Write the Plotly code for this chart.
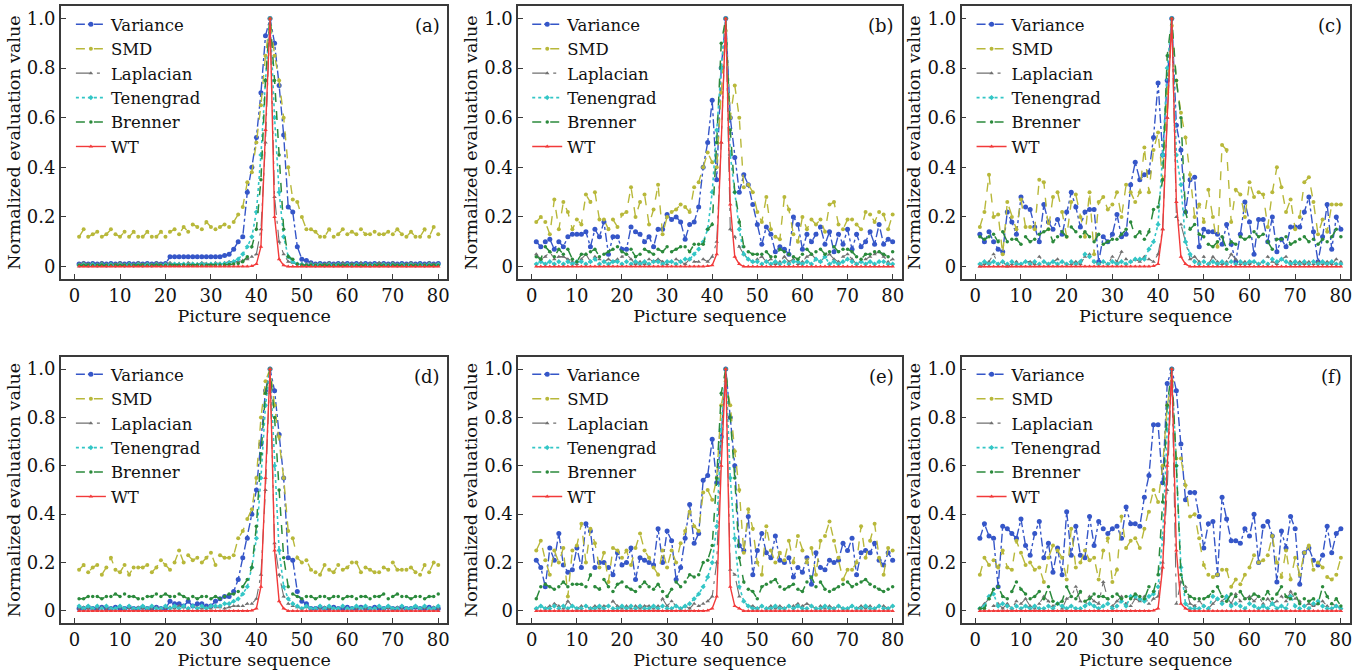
import plotly.graph_objects as go

x = list(range(1, 81))
names = ["Variance", "SMD", "Laplacian", "Tenengrad", "Brenner", "WT"]
panel_labels = ["(a)", "(b)", "(c)", "(d)", "(e)", "(f)"]
xtick_vals = [0, 10, 20, 30, 40, 50, 60, 70, 80]
ytick_vals = [0, 0.2, 0.4, 0.6, 0.8, 1.0]
ytick_text = ["0", "0.2", "0.4", "0.6", "0.8", "1.0"]

# ---------------- panel (a) ----------------
a_var = [0.01, 0.012, 0.01, 0.012, 0.01, 0.012, 0.01, 0.012, 0.01, 0.012,
         0.01, 0.012, 0.01, 0.012, 0.01, 0.012, 0.01, 0.012, 0.01, 0.012,
         0.04, 0.04, 0.04, 0.04, 0.04, 0.04, 0.04, 0.04, 0.04, 0.04,
         0.04, 0.04, 0.045, 0.05, 0.07, 0.10, 0.12, 0.30, 0.40, 0.52,
         0.70, 0.93, 1.00, 0.90, 0.73, 0.53, 0.24, 0.22, 0.08, 0.03,
         0.025, 0.015, 0.01, 0.012, 0.01, 0.012, 0.01, 0.012, 0.01, 0.012,
         0.01, 0.012, 0.01, 0.012, 0.01, 0.012, 0.01, 0.012, 0.01, 0.012,
         0.01, 0.012, 0.01, 0.012, 0.01, 0.012, 0.01, 0.012, 0.01, 0.012]
a_smd = [0.12, 0.15, 0.12, 0.13, 0.14, 0.12, 0.13, 0.15, 0.13, 0.12,
         0.14, 0.12, 0.14, 0.12, 0.12, 0.14, 0.12, 0.12, 0.14, 0.12,
         0.14, 0.15, 0.13, 0.16, 0.14, 0.17, 0.16, 0.15, 0.18, 0.16,
         0.15, 0.16, 0.17, 0.16, 0.18, 0.21, 0.24, 0.34, 0.38, 0.50,
         0.65, 0.85, 1.00, 0.85, 0.75, 0.60, 0.40, 0.27, 0.26, 0.20,
         0.15, 0.15, 0.14, 0.12, 0.12, 0.15, 0.12, 0.13, 0.15, 0.13,
         0.14, 0.13, 0.15, 0.13, 0.13, 0.14, 0.13, 0.13, 0.14, 0.13,
         0.15, 0.13, 0.12, 0.14, 0.12, 0.12, 0.15, 0.12, 0.16, 0.13]
a_lap = [0.01, 0.015, 0.01, 0.012, 0.01, 0.015, 0.01, 0.012, 0.01, 0.015,
         0.01, 0.012, 0.01, 0.015, 0.01, 0.012, 0.01, 0.015, 0.01, 0.012,
         0.015, 0.01, 0.012, 0.01, 0.015, 0.012, 0.01, 0.015, 0.012, 0.01,
         0.015, 0.012, 0.015, 0.02, 0.02, 0.02, 0.025, 0.03, 0.04, 0.05,
         0.15, 0.50, 1.00, 0.28, 0.10, 0.05, 0.02, 0.015, 0.01, 0.012,
         0.01, 0.015, 0.01, 0.012, 0.01, 0.015, 0.01, 0.012, 0.015, 0.01,
         0.012, 0.01, 0.015, 0.01, 0.012, 0.01, 0.015, 0.012, 0.01, 0.015,
         0.01, 0.012, 0.01, 0.015, 0.01, 0.012, 0.01, 0.015, 0.01, 0.012]
a_ten = [0.005, 0.008, 0.005, 0.008, 0.005, 0.008, 0.005, 0.008, 0.005, 0.008,
         0.005, 0.008, 0.005, 0.008, 0.005, 0.008, 0.005, 0.008, 0.005, 0.008,
         0.008, 0.01, 0.008, 0.01, 0.008, 0.01, 0.008, 0.01, 0.008, 0.01,
         0.01, 0.01, 0.012, 0.015, 0.02, 0.03, 0.05, 0.08, 0.12, 0.22,
         0.45, 0.75, 1.00, 0.60, 0.30, 0.12, 0.04, 0.02, 0.01, 0.008,
         0.005, 0.008, 0.005, 0.008, 0.005, 0.008, 0.005, 0.008, 0.005, 0.008,
         0.005, 0.008, 0.005, 0.008, 0.005, 0.008, 0.005, 0.008, 0.005, 0.008,
         0.005, 0.008, 0.005, 0.008, 0.005, 0.008, 0.005, 0.008, 0.005, 0.008]
a_bre = [0.005, 0.005, 0.006, 0.005, 0.005, 0.006, 0.005, 0.005, 0.006, 0.005,
         0.005, 0.006, 0.005, 0.005, 0.006, 0.005, 0.005, 0.006, 0.005, 0.005,
         0.006, 0.005, 0.005, 0.006, 0.005, 0.005, 0.006, 0.005, 0.005, 0.006,
         0.006, 0.006, 0.007, 0.008, 0.01, 0.012, 0.02, 0.04, 0.08, 0.15,
         0.35, 0.75, 1.00, 0.75, 0.45, 0.15, 0.04, 0.03, 0.01, 0.006,
         0.005, 0.006, 0.005, 0.005, 0.006, 0.005, 0.005, 0.006, 0.005, 0.005,
         0.006, 0.005, 0.005, 0.006, 0.005, 0.005, 0.006, 0.005, 0.005, 0.006,
         0.005, 0.005, 0.006, 0.005, 0.005, 0.006, 0.005, 0.005, 0.006, 0.005]
a_wt = [0, 0, 0, 0, 0, 0, 0, 0, 0, 0,
        0, 0, 0, 0, 0, 0, 0, 0, 0, 0,
        0, 0, 0, 0, 0, 0, 0, 0, 0, 0,
        0, 0, 0, 0, 0, 0, 0, 0, 0.002, 0.01,
        0.08, 0.55, 1.00, 0.20, 0.03, 0.005, 0, 0, 0, 0,
        0, 0, 0, 0, 0, 0, 0, 0, 0, 0,
        0, 0, 0, 0, 0, 0, 0, 0, 0, 0,
        0, 0, 0, 0, 0, 0, 0, 0, 0, 0]

# ---------------- panel (b) ----------------
b_var = [0.10, 0.08, 0.10, 0.11, 0.07, 0.10, 0.08, 0.12, 0.13, 0.13,
         0.13, 0.14, 0.08, 0.15, 0.12, 0.18, 0.05, 0.12, 0.12, 0.07,
         0.07, 0.16, 0.14, 0.13, 0.10, 0.12, 0.08, 0.15, 0.15, 0.21,
         0.19, 0.20, 0.18, 0.11, 0.17, 0.18, 0.24, 0.40, 0.50, 0.67,
         0.35, 0.80, 1.00, 0.60, 0.44, 0.30, 0.37, 0.33, 0.25, 0.17,
         0.09, 0.16, 0.13, 0.06, 0.08, 0.07, 0.05, 0.20, 0.17, 0.07,
         0.13, 0.10, 0.13, 0.16, 0.09, 0.14, 0.06, 0.13, 0.09, 0.15,
         0.07, 0.13, 0.08, 0.10, 0.14, 0.09, 0.17, 0.09, 0.11, 0.10]
b_smd = [0.18, 0.20, 0.18, 0.13, 0.27, 0.15, 0.26, 0.22, 0.15, 0.19,
         0.17, 0.29, 0.26, 0.30, 0.19, 0.19, 0.15, 0.19, 0.16, 0.21,
         0.22, 0.32, 0.20, 0.26, 0.29, 0.17, 0.23, 0.33, 0.13, 0.20,
         0.22, 0.23, 0.25, 0.24, 0.22, 0.32, 0.34, 0.40, 0.46, 0.42,
         0.40, 0.70, 0.95, 0.60, 0.73, 0.60, 0.32, 0.33, 0.30, 0.22,
         0.18, 0.28, 0.15, 0.12, 0.11, 0.28, 0.23, 0.13, 0.10, 0.20,
         0.15, 0.19, 0.17, 0.19, 0.14, 0.25, 0.26, 0.17, 0.15, 0.19,
         0.19, 0.17, 0.15, 0.22, 0.21, 0.18, 0.22, 0.21, 0.15, 0.21]
b_lap = [0.05, 0.03, 0.04, 0.06, 0.03, 0.04, 0.04, 0.03, 0.02, 0.01,
         0.03, 0.05, 0.02, 0.04, 0.03, 0.02, 0.03, 0.02, 0.03, 0.04,
         0.05, 0.03, 0.01, 0.02, 0.01, 0.03, 0.02, 0.03, 0.02, 0.01,
         0.02, 0.03, 0.02, 0.01, 0.03, 0.02, 0.02, 0.03, 0.02, 0.04,
         0.10, 0.50, 1.00, 0.15, 0.12, 0.08, 0.05, 0.03, 0.02, 0.03,
         0.04, 0.02, 0.03, 0.01, 0.02, 0.04, 0.02, 0.03, 0.01, 0.02,
         0.04, 0.05, 0.03, 0.02, 0.04, 0.05, 0.03, 0.02, 0.04, 0.05,
         0.03, 0.01, 0.02, 0.03, 0.04, 0.05, 0.06, 0.04, 0.02, 0.03]
b_ten = [0.01, 0.02, 0.01, 0.02, 0.01, 0.02, 0.01, 0.02, 0.01, 0.02,
         0.02, 0.01, 0.02, 0.03, 0.01, 0.02, 0.01, 0.02, 0.02, 0.01,
         0.02, 0.01, 0.02, 0.01, 0.02, 0.01, 0.02, 0.02, 0.01, 0.02,
         0.02, 0.01, 0.02, 0.03, 0.03, 0.05, 0.07, 0.10, 0.15, 0.30,
         0.55, 0.80, 1.00, 0.45, 0.30, 0.15, 0.05, 0.03, 0.02, 0.02,
         0.01, 0.02, 0.01, 0.02, 0.01, 0.02, 0.01, 0.02, 0.02, 0.01,
         0.02, 0.01, 0.03, 0.02, 0.04, 0.01, 0.02, 0.01, 0.02, 0.03,
         0.02, 0.01, 0.02, 0.01, 0.02, 0.01, 0.02, 0.02, 0.01, 0.01]
b_bre = [0.04, 0.03, 0.08, 0.06, 0.04, 0.07, 0.05, 0.07, 0.03, 0.02,
         0.05, 0.05, 0.06, 0.07, 0.04, 0.05, 0.06, 0.07, 0.08, 0.06,
         0.05, 0.07, 0.04, 0.05, 0.07, 0.06, 0.05, 0.07, 0.06, 0.08,
         0.06, 0.07, 0.08, 0.08, 0.06, 0.09, 0.09, 0.09, 0.15, 0.17,
         0.50, 0.90, 1.00, 0.55, 0.30, 0.18, 0.08, 0.06, 0.05, 0.05,
         0.05, 0.06, 0.04, 0.04, 0.07, 0.06, 0.05, 0.04, 0.03, 0.05,
         0.07, 0.05, 0.06, 0.07, 0.05, 0.06, 0.08, 0.06, 0.07, 0.07,
         0.06, 0.04, 0.03, 0.05, 0.05, 0.06, 0.06, 0.05, 0.04, 0.06]
b_wt = [0, 0, 0, 0, 0, 0, 0, 0, 0, 0,
        0, 0, 0, 0, 0, 0, 0, 0, 0, 0,
        0, 0, 0, 0, 0, 0, 0, 0, 0, 0,
        0, 0, 0, 0, 0, 0, 0, 0, 0.002, 0.005,
        0.05, 0.50, 1.00, 0.25, 0.04, 0.01, 0, 0, 0, 0,
        0, 0, 0, 0, 0, 0, 0, 0, 0, 0,
        0, 0, 0, 0, 0, 0, 0, 0, 0, 0,
        0, 0, 0, 0, 0, 0, 0, 0, 0, 0]

# ---------------- panel (c) ----------------
c_var = [0.13, 0.10, 0.14, 0.10, 0.07, 0.06, 0.22, 0.18, 0.13, 0.28,
         0.24, 0.23, 0.16, 0.10, 0.25, 0.18, 0.15, 0.19, 0.13, 0.22,
         0.30, 0.24, 0.16, 0.22, 0.23, 0.23, 0.02, 0.12, 0.10, 0.13,
         0.21, 0.12, 0.13, 0.33, 0.42, 0.35, 0.37, 0.38, 0.52, 0.74,
         0.45, 0.75, 1.00, 0.57, 0.47, 0.22, 0.35, 0.36, 0.08, 0.15,
         0.14, 0.14, 0.13, 0.09, 0.17, 0.09, 0.02, 0.13, 0.26, 0.18,
         0.05, 0.19, 0.19, 0.10, 0.20, 0.06, 0.11, 0.08, 0.16, 0.16,
         0.16, 0.22, 0.28, 0.14, 0.02, 0.12, 0.25, 0.07, 0.20, 0.15]
c_smd = [0.16, 0.22, 0.37, 0.20, 0.21, 0.05, 0.26, 0.20, 0.15, 0.27,
         0.16, 0.16, 0.15, 0.35, 0.34, 0.15, 0.28, 0.30, 0.22, 0.12,
         0.26, 0.29, 0.20, 0.12, 0.30, 0.05, 0.26, 0.28, 0.23, 0.25,
         0.30, 0.20, 0.33, 0.30, 0.26, 0.30, 0.48, 0.30, 0.47, 0.54,
         0.35, 0.70, 0.97, 0.75, 0.62, 0.52, 0.37, 0.20, 0.25, 0.18,
         0.31, 0.20, 0.08, 0.49, 0.47, 0.18, 0.31, 0.29, 0.20, 0.34,
         0.28, 0.30, 0.29, 0.16, 0.30, 0.40, 0.32, 0.22, 0.27, 0.15,
         0.20, 0.34, 0.36, 0.26, 0.13, 0.19, 0.14, 0.25, 0.25, 0.25]
c_lap = [0.00, 0.01, 0.02, 0.05, 0.01, 0.02, 0.00, 0.01, 0.02, 0.01,
         0.02, 0.02, 0.01, 0.04, 0.02, 0.01, 0.02, 0.03, 0.02, 0.01,
         0.01, 0.02, 0.01, 0.04, 0.05, 0.02, 0.01, 0.02, 0.01, 0.04,
         0.02, 0.06, 0.03, 0.02, 0.03, 0.02, 0.04, 0.03, 0.02, 0.05,
         0.15, 0.60, 1.00, 0.20, 0.17, 0.10, 0.03, 0.04, 0.02, 0.04,
         0.01, 0.04, 0.02, 0.01, 0.02, 0.05, 0.03, 0.01, 0.02, 0.01,
         0.02, 0.01, 0.02, 0.04, 0.02, 0.01, 0.03, 0.04, 0.02, 0.01,
         0.02, 0.01, 0.02, 0.01, 0.02, 0.01, 0.02, 0.01, 0.03, 0.02]
c_ten = [0.01, 0.02, 0.01, 0.02, 0.01, 0.02, 0.01, 0.02, 0.01, 0.01,
         0.02, 0.01, 0.02, 0.01, 0.02, 0.01, 0.02, 0.01, 0.02, 0.01,
         0.02, 0.01, 0.02, 0.05, 0.04, 0.02, 0.01, 0.02, 0.01, 0.02,
         0.01, 0.02, 0.01, 0.02, 0.03, 0.03, 0.03, 0.07, 0.10, 0.17,
         0.45, 0.80, 1.00, 0.45, 0.33, 0.10, 0.05, 0.02, 0.01, 0.02,
         0.01, 0.02, 0.01, 0.02, 0.01, 0.02, 0.01, 0.02, 0.01, 0.02,
         0.02, 0.01, 0.02, 0.01, 0.03, 0.02, 0.03, 0.02, 0.01, 0.02,
         0.01, 0.02, 0.01, 0.02, 0.01, 0.02, 0.01, 0.02, 0.01, 0.01]
c_bre = [0.12, 0.11, 0.12, 0.13, 0.10, 0.14, 0.10, 0.11, 0.11, 0.09,
         0.12, 0.10, 0.11, 0.13, 0.14, 0.15, 0.10, 0.12, 0.14, 0.12,
         0.16, 0.14, 0.12, 0.14, 0.12, 0.10, 0.13, 0.09, 0.10, 0.11,
         0.11, 0.13, 0.15, 0.18, 0.12, 0.14, 0.11, 0.14, 0.23, 0.24,
         0.35, 0.85, 1.00, 0.75, 0.60, 0.22, 0.15, 0.17, 0.13, 0.12,
         0.09, 0.08, 0.10, 0.12, 0.07, 0.10, 0.09, 0.12, 0.11, 0.12,
         0.14, 0.12, 0.13, 0.10, 0.07, 0.11, 0.11, 0.12, 0.09, 0.10,
         0.11, 0.12, 0.10, 0.11, 0.09, 0.11, 0.10, 0.12, 0.15, 0.12]
c_wt = [0, 0, 0, 0, 0, 0, 0, 0, 0, 0,
        0, 0, 0, 0, 0, 0, 0, 0, 0, 0,
        0, 0, 0, 0, 0, 0, 0, 0, 0, 0,
        0, 0, 0, 0, 0, 0, 0, 0, 0.002, 0.01,
        0.15, 0.60, 1.00, 0.26, 0.04, 0.01, 0, 0, 0, 0,
        0, 0, 0, 0, 0, 0, 0, 0, 0, 0,
        0, 0, 0, 0, 0, 0, 0, 0, 0, 0,
        0, 0, 0, 0, 0, 0, 0, 0, 0, 0]

# ---------------- panel (d) ----------------
d_var = [0.01, 0.01, 0.015, 0.01, 0.01, 0.015, 0.01, 0.01, 0.015, 0.01,
         0.01, 0.015, 0.01, 0.01, 0.015, 0.01, 0.01, 0.015, 0.01, 0.01,
         0.04, 0.03, 0.03, 0.02, 0.04, 0.02, 0.03, 0.03, 0.02, 0.02,
         0.04, 0.05, 0.06, 0.06, 0.08, 0.13, 0.22, 0.30, 0.40, 0.50,
         0.69, 0.91, 1.00, 0.91, 0.73, 0.55, 0.22, 0.21, 0.08, 0.04,
         0.03, 0.01, 0.01, 0.015, 0.01, 0.01, 0.015, 0.01, 0.01, 0.015,
         0.01, 0.01, 0.015, 0.01, 0.01, 0.015, 0.01, 0.01, 0.015, 0.01,
         0.01, 0.015, 0.01, 0.01, 0.015, 0.01, 0.01, 0.015, 0.01, 0.01]
d_smd = [0.17, 0.19, 0.16, 0.18, 0.19, 0.15, 0.18, 0.22, 0.17, 0.16,
         0.19, 0.15, 0.18, 0.18, 0.18, 0.19, 0.16, 0.18, 0.21, 0.19,
         0.17, 0.20, 0.25, 0.20, 0.23, 0.21, 0.22, 0.20, 0.22, 0.24,
         0.19, 0.23, 0.22, 0.22, 0.23, 0.30, 0.33, 0.38, 0.42, 0.55,
         0.80, 0.95, 1.00, 0.85, 0.72, 0.55, 0.33, 0.30, 0.22, 0.20,
         0.21, 0.17, 0.16, 0.15, 0.19, 0.17, 0.16, 0.19, 0.17, 0.18,
         0.20, 0.20, 0.16, 0.18, 0.17, 0.16, 0.16, 0.18, 0.17, 0.20,
         0.17, 0.17, 0.17, 0.18, 0.16, 0.15, 0.19, 0.16, 0.20, 0.19]
d_lap = [0.01, 0.015, 0.01, 0.012, 0.01, 0.015, 0.01, 0.012, 0.01, 0.015,
         0.01, 0.012, 0.01, 0.015, 0.01, 0.012, 0.01, 0.015, 0.01, 0.012,
         0.015, 0.01, 0.02, 0.015, 0.01, 0.02, 0.015, 0.01, 0.015, 0.01,
         0.015, 0.015, 0.01, 0.015, 0.02, 0.02, 0.02, 0.03, 0.03, 0.05,
         0.15, 0.50, 1.00, 0.28, 0.15, 0.06, 0.03, 0.02, 0.015, 0.01,
         0.015, 0.01, 0.012, 0.01, 0.015, 0.01, 0.012, 0.01, 0.015, 0.01,
         0.012, 0.01, 0.015, 0.01, 0.012, 0.01, 0.015, 0.01, 0.012, 0.01,
         0.015, 0.01, 0.012, 0.01, 0.015, 0.01, 0.012, 0.01, 0.015, 0.01]
d_ten = [0.02, 0.01, 0.02, 0.01, 0.02, 0.01, 0.02, 0.01, 0.01, 0.02,
         0.01, 0.02, 0.01, 0.01, 0.02, 0.01, 0.02, 0.01, 0.01, 0.02,
         0.01, 0.02, 0.01, 0.02, 0.01, 0.02, 0.01, 0.02, 0.01, 0.02,
         0.02, 0.02, 0.03, 0.03, 0.04, 0.05, 0.07, 0.10, 0.18, 0.30,
         0.55, 0.85, 1.00, 0.60, 0.25, 0.10, 0.05, 0.03, 0.02, 0.01,
         0.02, 0.01, 0.01, 0.02, 0.01, 0.02, 0.01, 0.01, 0.02, 0.01,
         0.01, 0.02, 0.01, 0.02, 0.01, 0.01, 0.02, 0.01, 0.02, 0.01,
         0.01, 0.02, 0.01, 0.01, 0.02, 0.01, 0.02, 0.01, 0.01, 0.02]
d_bre = [0.05, 0.05, 0.06, 0.06, 0.06, 0.05, 0.06, 0.06, 0.07, 0.06,
         0.07, 0.06, 0.06, 0.05, 0.05, 0.06, 0.06, 0.07, 0.06, 0.07,
         0.06, 0.06, 0.07, 0.06, 0.05, 0.06, 0.05, 0.06, 0.06, 0.05,
         0.06, 0.05, 0.06, 0.07, 0.07, 0.08, 0.10, 0.13, 0.18, 0.35,
         0.65, 0.90, 1.00, 0.80, 0.50, 0.22, 0.10, 0.07, 0.06, 0.05,
         0.06, 0.06, 0.05, 0.06, 0.06, 0.05, 0.06, 0.06, 0.05, 0.06,
         0.06, 0.05, 0.06, 0.06, 0.05, 0.06, 0.06, 0.07, 0.05, 0.06,
         0.07, 0.06, 0.06, 0.05, 0.06, 0.06, 0.05, 0.06, 0.06, 0.07]
d_wt = [0, 0, 0, 0, 0, 0, 0, 0, 0, 0,
        0, 0, 0, 0, 0, 0, 0, 0, 0, 0,
        0, 0, 0, 0, 0, 0, 0, 0, 0, 0,
        0, 0, 0, 0, 0, 0, 0, 0, 0.002, 0.01,
        0.10, 0.55, 1.00, 0.25, 0.04, 0.01, 0, 0, 0, 0,
        0, 0, 0, 0, 0, 0, 0, 0, 0, 0,
        0, 0, 0, 0, 0, 0, 0, 0, 0, 0,
        0, 0, 0, 0, 0, 0, 0, 0, 0, 0]

# ---------------- panel (e) ----------------
e_var = [0.21, 0.18, 0.10, 0.26, 0.21, 0.32, 0.19, 0.16, 0.17, 0.26,
         0.18, 0.36, 0.33, 0.18, 0.20, 0.20, 0.18, 0.15, 0.24, 0.19,
         0.20, 0.26, 0.13, 0.22, 0.21, 0.20, 0.19, 0.34, 0.20, 0.33,
         0.29, 0.13, 0.18, 0.30, 0.44, 0.28, 0.32, 0.54, 0.56, 0.71,
         0.53, 0.72, 1.00, 0.80, 0.60, 0.27, 0.25, 0.39, 0.15, 0.25,
         0.32, 0.24, 0.22, 0.31, 0.21, 0.20, 0.22, 0.14, 0.18, 0.16,
         0.22, 0.11, 0.24, 0.18, 0.17, 0.21, 0.20, 0.21, 0.28, 0.25,
         0.30, 0.15, 0.24, 0.25, 0.24, 0.28, 0.21, 0.19, 0.24, 0.21]
e_smd = [0.25, 0.29, 0.21, 0.15, 0.25, 0.20, 0.26, 0.06, 0.25, 0.27,
         0.36, 0.20, 0.34, 0.28, 0.18, 0.24, 0.12, 0.26, 0.25, 0.22,
         0.25, 0.19, 0.26, 0.32, 0.25, 0.22, 0.18, 0.15, 0.25, 0.18,
         0.25, 0.20, 0.28, 0.33, 0.41, 0.35, 0.33, 0.49, 0.50, 0.46,
         0.55, 0.85, 0.95, 0.85, 0.66, 0.50, 0.24, 0.42, 0.34, 0.20,
         0.15, 0.35, 0.25, 0.20, 0.24, 0.21, 0.29, 0.20, 0.31, 0.25,
         0.20, 0.26, 0.15, 0.29, 0.31, 0.37, 0.29, 0.22, 0.13, 0.17,
         0.17, 0.20, 0.35, 0.22, 0.29, 0.36, 0.22, 0.15, 0.26, 0.25]
e_lap = [0.01, 0.02, 0.01, 0.02, 0.03, 0.02, 0.01, 0.04, 0.02, 0.01,
         0.02, 0.02, 0.01, 0.02, 0.01, 0.02, 0.02, 0.04, 0.02, 0.01,
         0.02, 0.01, 0.02, 0.01, 0.02, 0.02, 0.01, 0.02, 0.05, 0.02,
         0.04, 0.02, 0.01, 0.02, 0.01, 0.03, 0.02, 0.03, 0.04, 0.06,
         0.20, 0.70, 1.00, 0.17, 0.15, 0.06, 0.04, 0.02, 0.02, 0.01,
         0.02, 0.01, 0.02, 0.01, 0.02, 0.01, 0.02, 0.02, 0.03, 0.02,
         0.03, 0.02, 0.01, 0.02, 0.01, 0.02, 0.01, 0.02, 0.01, 0.01,
         0.02, 0.01, 0.02, 0.01, 0.02, 0.01, 0.02, 0.02, 0.01, 0.02]
e_ten = [0.01, 0.02, 0.01, 0.01, 0.02, 0.01, 0.02, 0.01, 0.02, 0.01,
         0.01, 0.02, 0.01, 0.01, 0.02, 0.01, 0.02, 0.01, 0.01, 0.02,
         0.01, 0.02, 0.01, 0.02, 0.01, 0.01, 0.02, 0.01, 0.02, 0.01,
         0.01, 0.02, 0.01, 0.02, 0.03, 0.05, 0.07, 0.10, 0.14, 0.20,
         0.35, 0.75, 1.00, 0.55, 0.30, 0.10, 0.04, 0.02, 0.01, 0.01,
         0.02, 0.01, 0.01, 0.02, 0.01, 0.01, 0.02, 0.01, 0.02, 0.01,
         0.01, 0.02, 0.01, 0.01, 0.02, 0.01, 0.01, 0.02, 0.01, 0.01,
         0.02, 0.01, 0.01, 0.02, 0.01, 0.01, 0.02, 0.01, 0.01, 0.02]
e_bre = [0.05, 0.10, 0.11, 0.10, 0.09, 0.10, 0.12, 0.10, 0.11, 0.11,
         0.11, 0.10, 0.15, 0.10, 0.09, 0.13, 0.10, 0.08, 0.11, 0.12,
         0.10, 0.09, 0.08, 0.10, 0.12, 0.10, 0.09, 0.11, 0.08, 0.06,
         0.09, 0.12, 0.10, 0.12, 0.15, 0.14, 0.15, 0.20, 0.21, 0.27,
         0.55, 0.90, 1.00, 0.80, 0.55, 0.22, 0.12, 0.09, 0.08, 0.05,
         0.10, 0.11, 0.12, 0.13, 0.10, 0.09, 0.10, 0.11, 0.09, 0.08,
         0.12, 0.14, 0.10, 0.12, 0.09, 0.08, 0.09, 0.10, 0.11, 0.12,
         0.10, 0.11, 0.12, 0.13, 0.11, 0.10, 0.09, 0.08, 0.09, 0.10]
e_wt = [0, 0, 0, 0, 0, 0, 0, 0, 0, 0,
        0, 0, 0, 0, 0, 0, 0, 0, 0, 0,
        0, 0, 0, 0, 0, 0, 0, 0, 0, 0,
        0, 0, 0, 0, 0, 0, 0, 0, 0.002, 0.01,
        0.06, 0.60, 1.00, 0.10, 0.02, 0.01, 0, 0, 0, 0,
        0, 0, 0, 0, 0, 0, 0, 0, 0, 0,
        0, 0, 0, 0, 0, 0, 0, 0, 0, 0,
        0, 0, 0, 0, 0, 0, 0, 0, 0, 0]

# ---------------- panel (f) ----------------
f_var = [0.30, 0.36, 0.31, 0.30, 0.10, 0.35, 0.34, 0.32, 0.30, 0.38,
         0.27, 0.23, 0.32, 0.37, 0.22, 0.28, 0.16, 0.26, 0.15, 0.41,
         0.23, 0.35, 0.23, 0.22, 0.39, 0.27, 0.37, 0.34, 0.32, 0.34,
         0.35, 0.30, 0.43, 0.36, 0.36, 0.35, 0.47, 0.56, 0.77, 0.77,
         0.53, 0.94, 1.00, 0.91, 0.69, 0.46, 0.49, 0.49, 0.39, 0.26,
         0.36, 0.37, 0.15, 0.47, 0.38, 0.29, 0.29, 0.28, 0.34, 0.31,
         0.40, 0.20, 0.35, 0.37, 0.31, 0.12, 0.33, 0.26, 0.39, 0.34,
         0.11, 0.24, 0.26, 0.21, 0.19, 0.23, 0.35, 0.24, 0.32, 0.34]
f_smd = [0.15, 0.22, 0.19, 0.21, 0.18, 0.25, 0.18, 0.17, 0.29, 0.24,
         0.19, 0.20, 0.17, 0.18, 0.12, 0.22, 0.27, 0.25, 0.22, 0.13,
         0.34, 0.18, 0.20, 0.25, 0.21, 0.22, 0.13, 0.25, 0.30, 0.12,
         0.17, 0.39, 0.26, 0.29, 0.30, 0.26, 0.34, 0.41, 0.50, 0.45,
         0.60, 0.85, 0.95, 0.63, 0.63, 0.52, 0.39, 0.40, 0.30, 0.19,
         0.15, 0.14, 0.15, 0.17, 0.17, 0.10, 0.13, 0.11, 0.15, 0.18,
         0.23, 0.20, 0.21, 0.23, 0.31, 0.20, 0.14, 0.25, 0.13, 0.22,
         0.15, 0.24, 0.27, 0.17, 0.20, 0.18, 0.14, 0.13, 0.15, 0.22]
f_lap = [0.01, 0.03, 0.05, 0.02, 0.03, 0.01, 0.03, 0.01, 0.04, 0.03,
         0.05, 0.02, 0.01, 0.03, 0.06, 0.04, 0.02, 0.03, 0.01, 0.05,
         0.06, 0.10, 0.04, 0.02, 0.06, 0.04, 0.03, 0.12, 0.05, 0.02,
         0.04, 0.06, 0.03, 0.02, 0.05, 0.04, 0.06, 0.03, 0.05, 0.06,
         0.20, 0.50, 1.00, 0.03, 0.12, 0.10, 0.03, 0.02, 0.04, 0.02,
         0.01, 0.03, 0.05, 0.04, 0.06, 0.03, 0.07, 0.04, 0.05, 0.06,
         0.04, 0.06, 0.03, 0.05, 0.03, 0.04, 0.06, 0.04, 0.08, 0.05,
         0.04, 0.02, 0.03, 0.02, 0.03, 0.04, 0.02, 0.03, 0.02, 0.01]
f_ten = [0.01, 0.02, 0.06, 0.07, 0.02, 0.03, 0.02, 0.01, 0.02, 0.01,
         0.02, 0.01, 0.02, 0.01, 0.01, 0.02, 0.01, 0.03, 0.02, 0.01,
         0.02, 0.01, 0.01, 0.02, 0.03, 0.02, 0.01, 0.02, 0.03, 0.01,
         0.02, 0.04, 0.02, 0.06, 0.06, 0.05, 0.04, 0.06, 0.07, 0.10,
         0.30, 0.75, 1.00, 0.60, 0.18, 0.03, 0.01, 0.01, 0.01, 0.02,
         0.01, 0.06, 0.05, 0.03, 0.06, 0.02, 0.03, 0.02, 0.01, 0.03,
         0.02, 0.01, 0.02, 0.01, 0.03, 0.01, 0.02, 0.01, 0.06, 0.02,
         0.01, 0.02, 0.01, 0.03, 0.04, 0.02, 0.01, 0.01, 0.02, 0.01]
f_bre = [0.01, 0.01, 0.05, 0.09, 0.10, 0.06, 0.05, 0.08, 0.12, 0.09,
         0.07, 0.05, 0.06, 0.08, 0.05, 0.10, 0.04, 0.03, 0.04, 0.10,
         0.06, 0.05, 0.08, 0.04, 0.05, 0.07, 0.06, 0.06, 0.05, 0.06,
         0.07, 0.05, 0.06, 0.05, 0.07, 0.06, 0.05, 0.10, 0.08, 0.15,
         0.45, 0.85, 1.00, 0.60, 0.15, 0.08, 0.06, 0.05, 0.05, 0.05,
         0.06, 0.08, 0.10, 0.06, 0.04, 0.07, 0.06, 0.08, 0.05, 0.05,
         0.07, 0.06, 0.05, 0.08, 0.05, 0.07, 0.10, 0.06, 0.05, 0.07,
         0.03, 0.05, 0.04, 0.05, 0.03, 0.10, 0.06, 0.03, 0.05, 0.02]
f_wt = [0, 0, 0, 0, 0, 0, 0, 0, 0, 0,
        0, 0, 0, 0, 0, 0, 0, 0, 0, 0,
        0, 0, 0, 0, 0, 0, 0, 0, 0, 0,
        0, 0, 0, 0, 0, 0, 0, 0, 0.002, 0.01,
        0.18, 0.60, 1.00, 0.25, 0.03, 0.01, 0, 0, 0, 0,
        0, 0, 0, 0, 0, 0, 0, 0, 0, 0,
        0, 0, 0, 0, 0, 0, 0, 0, 0, 0,
        0, 0, 0, 0, 0, 0, 0, 0, 0, 0]

panels = [
    [a_var, a_smd, a_lap, a_ten, a_bre, a_wt],
    [b_var, b_smd, b_lap, b_ten, b_bre, b_wt],
    [c_var, c_smd, c_lap, c_ten, c_bre, c_wt],
    [d_var, d_smd, d_lap, d_ten, d_bre, d_wt],
    [e_var, e_smd, e_lap, e_ten, e_bre, e_wt],
    [f_var, f_smd, f_lap, f_ten, f_bre, f_wt],
]

# ---------------- styling ----------------
W, H = 1360, 671
FONT = "DejaVu Serif"
AXC = "#3a3a3a"
TXT = "#111111"
styles = [
    dict(color="#3556c8", dash="dashdot", symbol="circle", size=5, width=1.4),
    dict(color="#b8b83a", dash="dash", symbol="circle", size=4, width=1.4),
    dict(color="#707070", dash="longdashdot", symbol="triangle-up", size=4, width=1.1),
    dict(color="#33c6c6", dash="dot", symbol="diamond", size=4, width=1.6),
    dict(color="#2b8a3c", dash="dash", symbol="circle", size=3.5, width=1.5),
    dict(color="#f23a3a", dash="solid", symbol="triangle-up", size=4, width=1.4),
]

# pixel boxes of the six plot areas
cols = [(61, 448), (519, 903), (963, 1352)]
rows = [(6, 279), (357, 623)]
legend_left = [71, 528, 973]
legend_top = [7, 357]

fig = go.Figure()
layout = dict(width=W, height=H, margin=dict(l=0, r=0, t=0, b=0),
              paper_bgcolor="white", plot_bgcolor="white",
              font=dict(family=FONT, size=17, color=TXT),
              annotations=[])

for p in range(6):
    r, c = divmod(p, 3)
    idx = p + 1
    xs = "" if idx == 1 else str(idx)
    xl, xr = cols[c]
    yt, yb = rows[r]
    legname = "legend" if idx == 1 else f"legend{idx}"
    for k in range(6):
        st = styles[k]
        fig.add_trace(go.Scatter(
            x=x, y=panels[p][k], name=names[k], mode="lines+markers",
            line=dict(color=st["color"], dash=st["dash"], width=st["width"]),
            marker=dict(color=st["color"], symbol=st["symbol"], size=st["size"]),
            xaxis="x" + xs, yaxis="y" + xs, legend=legname,
        ))
    layout["xaxis" + xs] = dict(
        domain=[xl / W, xr / W], anchor="y" + xs, range=[-3, 82],
        tickvals=xtick_vals, ticks="inside", ticklen=5, tickwidth=1.2, tickcolor=AXC,
        showline=True, linecolor=AXC, linewidth=1.6, mirror=True,
        showgrid=False, zeroline=False,
        tickfont=dict(family=FONT, size=18, color=TXT),
        title=dict(text="Picture sequence", standoff=2,
                   font=dict(family=FONT, size=17.5, color=TXT)),
    )
    layout["yaxis" + xs] = dict(
        domain=[1 - yb / H, 1 - yt / H], anchor="x" + xs, range=[-0.05, 1.05],
        tickvals=ytick_vals, ticktext=ytick_text,
        ticks="inside", ticklen=5, tickwidth=1.2, tickcolor=AXC,
        showline=True, linecolor=AXC, linewidth=1.6, mirror=True,
        showgrid=False, zeroline=False,
        tickfont=dict(family=FONT, size=18, color=TXT),
        title=dict(text="Normalized evaluation value", standoff=2,
                   font=dict(family=FONT, size=17.5, color=TXT)),
    )
    layout[legname] = dict(
        x=legend_left[c] / W, y=1 - legend_top[r] / H, xanchor="left", yanchor="top",
        bgcolor="rgba(0,0,0,0)", borderwidth=0, tracegroupgap=0,
        font=dict(family=FONT, size=16.5, color=TXT), itemwidth=30,
    )
    layout["annotations"].append(dict(
        text=panel_labels[p], xref=f"x{xs} domain", yref=f"y{xs} domain",
        x=0.985, y=0.975, xanchor="right", yanchor="top", showarrow=False,
        font=dict(family=FONT, size=18, color=TXT),
    ))

fig.update_layout(**layout)
fig.write_html("out.html",
               config={"displayModeBar": False},
               post_script="document.body.style.margin='0px';"
                           "document.body.style.overflow='hidden';")
